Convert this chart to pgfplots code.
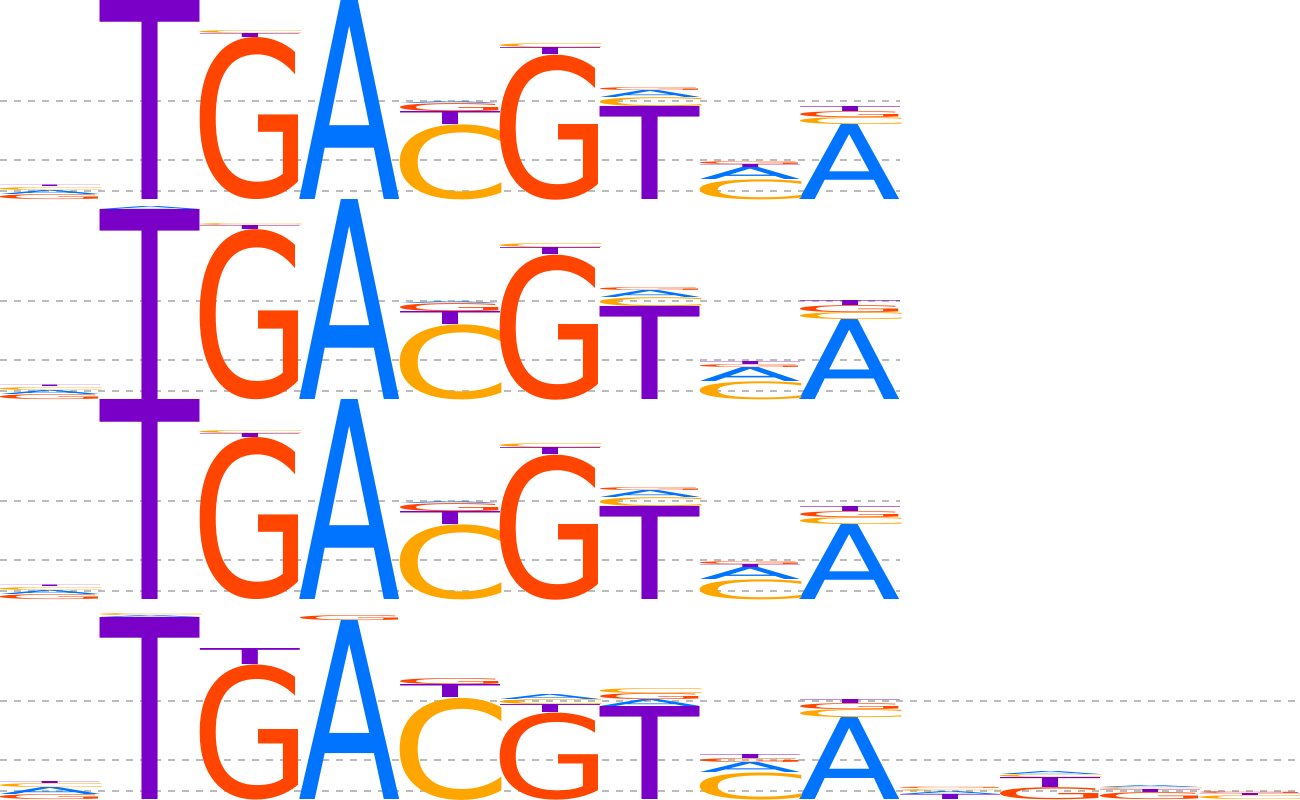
\documentclass[border=0pt]{standalone}
\usepackage{fontspec}
\setmainfont{DejaVu Sans}
\usepackage{graphicx}
\usepackage{pgfplots}
\usepackage{pgfplotstable}
\pgfplotsset{compat=1.18}
\definecolor{cA}{HTML}{0073FF}
\definecolor{cC}{HTML}{FFA500}
\definecolor{cG}{HTML}{FF4500}
\definecolor{cT}{HTML}{7A00C8}
\definecolor{gridc}{HTML}{BBBBBB}
\newlength\letterlen
\pgfdeclareplotmark{emptymark}{}
% x = position centre, y = bottom of letter (px from picture bottom), h = letter height (px)
\pgfplotstableread{
x y h
0.5 605 4
3.5 600 200
4.5 696 2
6.5 702 7
7.5 620 12
8.5 600 75
0.5 405 4
1.5 590 3
3.5 400 200
4.5 496 2
6.5 502 7
7.5 418 14
8.5 400 80
0.5 205 4
3.5 200 200
4.5 296 2
6.5 302 7
7.5 220 12
8.5 200 75
0.5 5 7
1.5 182 2
3.5 0 179
5.5 100 5
6.5 93 7
7.5 27 10
8.5 0 82
9.5 5 3
10.5 25 3
11.5 12 2
}\tabA
\pgfplotstableread{
x y h
0.5 609 3
2.5 766 3
4.5 600 75
5.5 752 4
6.5 693 9
7.5 600 20
8.5 675 7
0.5 409 3
2.5 574 2
4.5 400 75
5.5 552 4
6.5 493 9
7.5 400 18
8.5 480 7
0.5 209 3
2.5 366 3
4.5 200 75
5.5 352 4
6.5 293 9
7.5 200 20
8.5 275 7
0.5 12 4
1.5 184 2
4.5 0 102
5.5 95 5
6.5 106 5
7.5 0 27
8.5 82 8
9.5 8 2
10.5 22 3
11.5 10 2
12.5 0 4
}\tabC
\pgfplotstableread{
x y h
0.5 600 5
2.5 600 162
4.5 688 8
5.5 600 145
6.5 709 3
7.5 635 3
8.5 682 6
0.5 400 5
2.5 400 170
4.5 488 8
5.5 400 145
6.5 509 3
7.5 432 3
8.5 487 7
0.5 200 5
2.5 200 162
4.5 288 8
5.5 200 145
6.5 309 3
7.5 235 3
8.5 282 6
0.5 0 5
2.5 0 135
3.5 179 5
4.5 115 6
5.5 0 87
6.5 100 6
7.5 37 4
8.5 90 6
9.5 10 1.5
10.5 0 12
11.5 0 7
12.5 6 2
}\tabG
\pgfplotstableread{
x y h
0.5 612 1.5
1.5 600 200
2.5 762 4
4.5 675 13
5.5 745 7
6.5 600 93
7.5 632 3
8.5 688 5
0.5 412 1.5
1.5 400 190
2.5 570 4
4.5 475 13
5.5 545 7
6.5 400 93
7.5 435 3
8.5 494 5
0.5 212 1.5
1.5 200 200
2.5 362 4
4.5 275 13
5.5 345 7
6.5 200 93
7.5 232 3
8.5 288 5
0.5 16 2
1.5 0 182
2.5 135 16
4.5 102 13
5.5 87 8
6.5 0 93
7.5 41 4
8.5 96 4
9.5 0 5
10.5 12 10
11.5 7 3
12.5 4 2
}\tabT
\pgfplotsset{
  logo/.style n args={4}{%
    scatter, only marks, mark=emptymark,
    visualization depends on={\thisrow{h}\as\LetterH},
    scatter/@pre marker code/.code={%
      \pgfmathsetlength{\letterlen}{\LetterH*0.1mm}%
      \node[inner sep=0pt,outer sep=0pt,anchor=south,xshift=#4] at (0,0)
        {\resizebox*{#3}{\letterlen}{\textcolor{#1}{#2}}};},
    scatter/@post marker code/.code={},
  },
  gl/.style={gridc, line width=0.2mm, dash pattern=on 0.7mm off 0.7mm, forget plot},
}
\begin{document}
\begin{tikzpicture}
\begin{axis}[
  scale only axis, width=13cm, height=8cm,
  xmin=0, xmax=13, ymin=0, ymax=800,
  axis line style={draw=none}, ticks=none,
  clip marker paths=true,
]
% dashed reference lines of each logo
\addplot[gl] coordinates {(0,608.5) (9,608.5)};
\addplot[gl] coordinates {(0,640) (9,640)};
\addplot[gl] coordinates {(0,698.5) (9,698.5)};
\addplot[gl] coordinates {(0,408.5) (9,408.5)};
\addplot[gl] coordinates {(0,440) (9,440)};
\addplot[gl] coordinates {(0,498.5) (9,498.5)};
\addplot[gl] coordinates {(0,208.5) (9,208.5)};
\addplot[gl] coordinates {(0,240) (9,240)};
\addplot[gl] coordinates {(0,298.5) (9,298.5)};
\addplot[gl] coordinates {(0,8.5) (13,8.5)};
\addplot[gl] coordinates {(0,40) (13,40)};
\addplot[gl] coordinates {(0,98.5) (13,98.5)};
% letters
\addplot[logo={cA}{A}{1.024cm}{0pt}] table[x=x,y=y] {\tabA};
\addplot[logo={cC}{C}{1.207cm}{0.06mm}] table[x=x,y=y] {\tabC};
\addplot[logo={cG}{G}{1.196cm}{0.11mm}] table[x=x,y=y] {\tabG};
\addplot[logo={cT}{T}{0.99cm}{0pt}] table[x=x,y=y] {\tabT};
\end{axis}
\pgfresetboundingbox
\path (current axis.south west) rectangle (current axis.north east);
\end{tikzpicture}
\end{document}
